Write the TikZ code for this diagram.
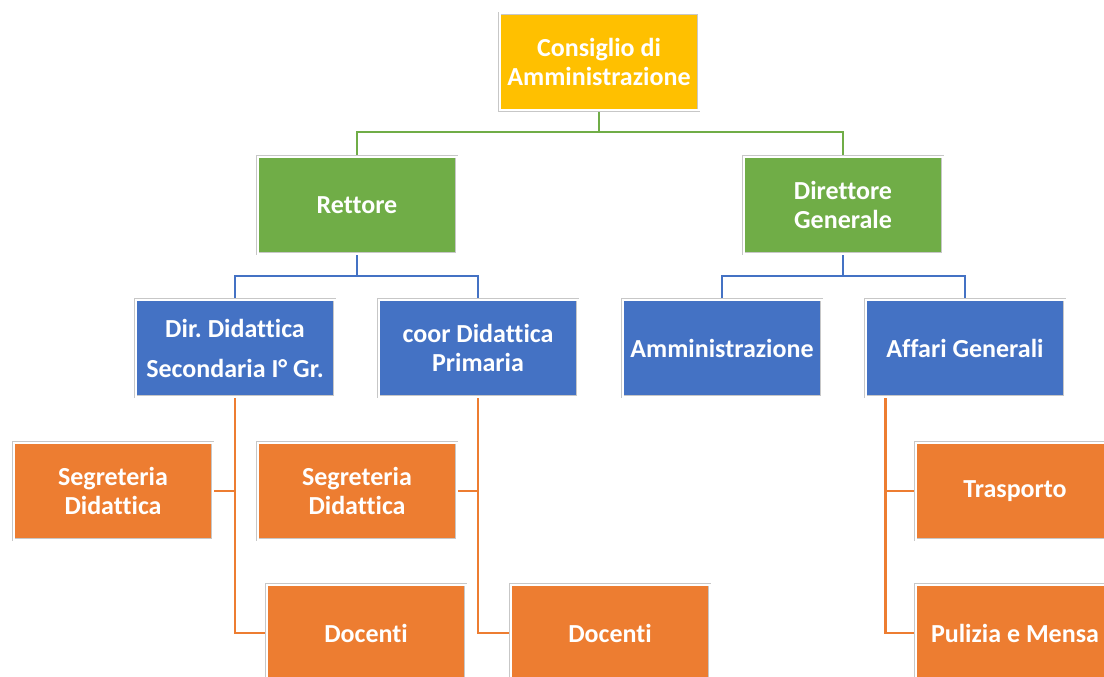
\documentclass[tikz,border=0pt]{standalone}
\usepackage{fontspec}
\setmainfont{Carlito}[Ligatures=NoCommon]
\usetikzlibrary{calc,backgrounds}

\definecolor{oro}{HTML}{FFC000}
\definecolor{verde}{HTML}{70AD47}
\definecolor{blu}{HTML}{4472C4}
\definecolor{arancio}{HTML}{ED7D31}

\tikzset{
  box/.style={draw=black!22, double=white, double distance=2pt, line width=0.8pt,
    minimum width=199pt, minimum height=97pt, align=center, text=white,
    font=\fontsize{26}{29}\selectfont\bfseries, inner sep=2pt},
  linea/.style={line width=2.8pt}
}

\begin{document}
\frenchspacing
\begin{tikzpicture}[x=1pt,y=-1pt]
		% Rahmen
		\useasboundingbox (0,0) rectangle (1104,677);
		
		% Ebene 1
		\node[box, fill=oro] (cda) at (599,62) {Consiglio di\\Amministrazione};
		
		% Ebene 2
		\node[box, fill=verde] (ret) at (357,205) {Rettore};
		\node[box, fill=verde] (dir) at (843,205) {Direttore\\Generale};
		
		% Ebene 3
		\node[box, fill=blu] (did) at (235,348) {Dir. Didattica\\[11pt]Secondaria I° Gr.};
		\node[box, fill=blu] (coor) at (478,348) {coor Didattica\\Primaria};
		\node[box, fill=blu] (amm) at (722,348) {Amministrazione};
		\node[box, fill=blu] (aff) at (965,348) {Affari Generali};
		
		% Ebene 4
		\node[box, fill=arancio] (seg1) at (113,491) {Segreteria\\Didattica};
		\node[box, fill=arancio] (doc1) at (366,633) {Docenti};
		\node[box, fill=arancio] (seg2) at (357,491) {Segreteria\\Didattica};
		\node[box, fill=arancio] (doc2) at (610,633) {Docenti};
		\node[box, fill=arancio] (tra) at (1015,491) {Trasporto};
		\node[box, fill=arancio] (pul) at (1015,633) {Pulizia e Mensa};
		
		% Verbindungen
		\begin{scope}[on background layer]
		\draw[linea, verde] (cda.south) -- ++(0,21) -| (ret.north);
		\draw[linea, verde] (cda.south) -- ++(0,21) -| (dir.north);
		\draw[linea, blu] (ret.south) -- ++(0,22) -| (did.north);
		\draw[linea, blu] (ret.south) -- ++(0,22) -| (coor.north);
		\draw[linea, blu] (dir.south) -- ++(0,22) -| (amm.north);
		\draw[linea, blu] (dir.south) -- ++(0,22) -| (aff.north);
		\draw[linea, arancio] (did.south) |- (seg1.east);
		\draw[linea, arancio] (did.south) |- (doc1.west);
		\draw[linea, arancio] (coor.south) |- (seg2.east);
		\draw[linea, arancio] (coor.south) |- (doc2.west);
		\coordinate (affS) at ($(aff.south west)+(20,0)$);
		\draw[linea, arancio] (affS) |- (tra.west);
		\draw[linea, arancio] (affS) |- (pul.west);
		\end{scope}
	\end{tikzpicture}
\end{document}
